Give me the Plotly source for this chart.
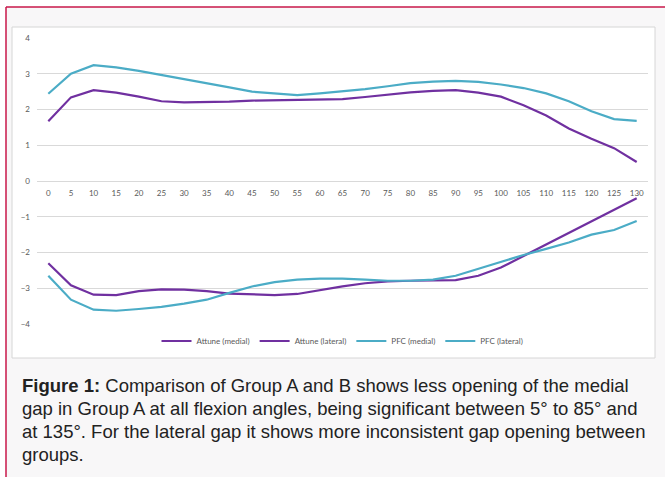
import plotly.graph_objects as go

angles = [str(a) for a in range(0, 135, 5)]

attune_medial = [1.67, 2.34, 2.54, 2.47, 2.36, 2.23, 2.20, 2.20, 2.22, 2.25, 2.26, 2.26, 2.28, 2.29, 2.35, 2.42, 2.48, 2.52, 2.54, 2.47, 2.36, 2.12, 1.83, 1.47, 1.18, 0.92, 0.53]
attune_lateral = [-2.30, -2.92, -3.18, -3.19, -3.08, -3.03, -3.04, -3.08, -3.15, -3.18, -3.19, -3.16, -3.05, -2.95, -2.86, -2.81, -2.79, -2.77, -2.77, -2.65, -2.42, -2.10, -1.78, -1.46, -1.14, -0.80, -0.48]
pfc_medial = [2.44, 3.00, 3.24, 3.18, 3.08, 2.97, 2.86, 2.74, 2.62, 2.50, 2.44, 2.40, 2.45, 2.50, 2.57, 2.65, 2.74, 2.78, 2.80, 2.77, 2.70, 2.60, 2.45, 2.23, 1.95, 1.73, 1.68]
pfc_lateral = [-2.65, -3.32, -3.60, -3.63, -3.58, -3.52, -3.43, -3.32, -3.13, -2.95, -2.83, -2.76, -2.73, -2.73, -2.76, -2.79, -2.79, -2.76, -2.65, -2.46, -2.25, -2.07, -1.90, -1.72, -1.50, -1.37, -1.12]

series_names = ["Attune (medial)", "Attune (lateral)", "PFC (medial)", "PFC (lateral)"]
series_values = [attune_medial, attune_lateral, pfc_medial, pfc_lateral]
series_colors = ["#7030a0", "#7030a0", "#4bacc6", "#4bacc6"]

caption_lines = [
    "<b>Figure 1:</b> Comparison of Group A and B shows less opening of the medial",
    "gap in Group A at all flexion angles, being significant between 5° to 85° and",
    "at 135°. For the lateral gap it shows more inconsistent gap opening between",
    "groups.",
]

W_FIG, H_FIG = 665, 477
ML, MR, MT, MB = 37, 17, 38, 153
PW = W_FIG - ML - MR
PH = H_FIG - MT - MB


def px_x(px):
    return (px - ML) / PW


def px_y(py):
    return (H_FIG - MB - py) / PH


fig = go.Figure()
for name, vals, col in zip(series_names, series_values, series_colors):
    fig.add_trace(go.Scatter(x=angles, y=vals, mode="lines", name=name,
                             line=dict(color=col, width=2.2)))

shapes = [
    dict(type="rect", xref="paper", yref="paper", x0=px_x(6), x1=px_x(670),
         y0=px_y(7), y1=px_y(480), fillcolor="#f8f7f8", line=dict(width=0), layer="below"),
    dict(type="rect", xref="paper", yref="paper", x0=px_x(12), x1=px_x(655),
         y0=px_y(27), y1=px_y(358), fillcolor="white", line=dict(color="#d6d6d6", width=1), layer="below"),
    dict(type="line", xref="paper", yref="paper", x0=px_x(6), x1=px_x(670),
         y0=px_y(7), y1=px_y(7), line=dict(color="#c8174a", width=1.5), layer="above"),
    dict(type="line", xref="paper", yref="paper", x0=px_x(6), x1=px_x(6),
         y0=px_y(7), y1=px_y(480), line=dict(color="#c8174a", width=1.5), layer="above"),
]

annotations = []
line_ys = [385, 408, 431, 454]
for txt, yy in zip(caption_lines, line_ys):
    annotations.append(dict(text=txt, xref="paper", yref="paper", x=px_x(20), y=px_y(yy),
                            xanchor="left", yanchor="middle", showarrow=False,
                            font=dict(family="Liberation Sans, Arial, sans-serif", size=18.5, color="#222222")))

fig.update_layout(
    width=W_FIG, height=H_FIG,
    margin=dict(l=ML, r=MR, t=MT, b=MB, pad=0, autoexpand=False),
    paper_bgcolor="white", plot_bgcolor="rgba(0,0,0,0)",
    showlegend=True,
    legend=dict(orientation="h", x=0.5, xanchor="center", y=px_y(341), yanchor="middle",
                font=dict(family="Lato, sans-serif", size=8, color="#595959"),
                bgcolor="rgba(0,0,0,0)", itemwidth=30, tracegroupgap=0),
    shapes=shapes,
    annotations=annotations,
    xaxis=dict(type="category", range=[-0.5, 26.5], showgrid=False, showline=False,
               anchor="free", position=0.5, ticks="", ticklabelstandoff=6, automargin=False,
               tickfont=dict(family="Lato, sans-serif", size=8, color="#595959"),
               zeroline=False, fixedrange=True),
    yaxis=dict(range=[-4, 4], dtick=1, showgrid=True, gridcolor="#d9d9d9", gridwidth=1,
               zeroline=True, zerolinecolor="#d9d9d9", zerolinewidth=1, showline=False,
               ticks="", ticklabelstandoff=6, automargin=False,
               tickfont=dict(family="Lato, sans-serif", size=8, color="#595959"), fixedrange=True),
)

fig.write_html("out.html", config={"displayModeBar": False},
               post_script="document.body.style.margin='0';document.body.style.padding='0';")
